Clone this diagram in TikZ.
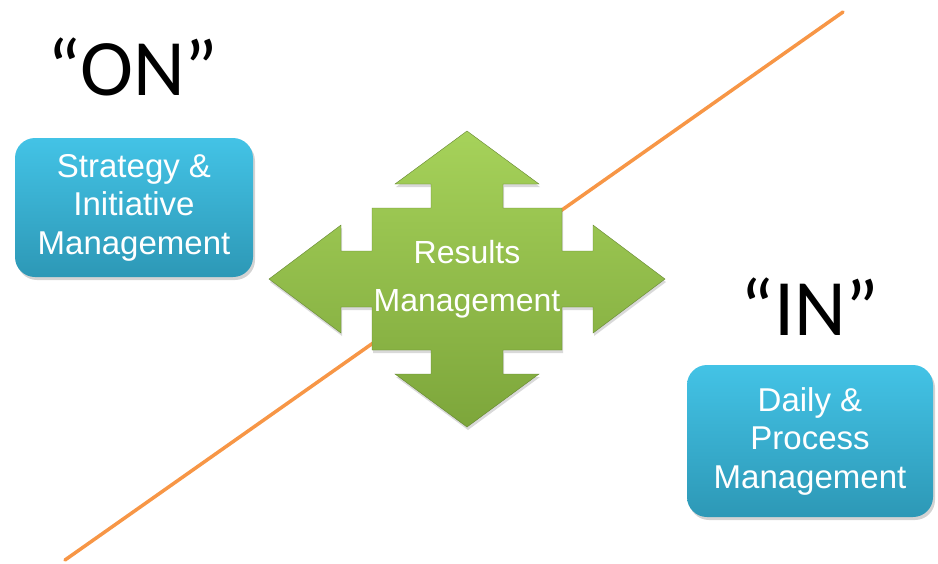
\documentclass[tikz,border=0pt]{standalone}
\usepackage{fontspec}
\setmainfont{Liberation Sans}
\newfontfamily\quotefont{Carlito}
\usetikzlibrary{shadows}

\definecolor{boxtop}{HTML}{43C3E6}
\definecolor{boxbot}{HTML}{2D98B6}
\definecolor{arrtop}{HTML}{A6D25A}
\definecolor{arrbot}{HTML}{7DA63B}
\definecolor{axisline}{HTML}{F79646}

\tikzset{
  mgmtbox/.style={rounded corners=20pt, top color=boxtop, bottom color=boxbot,
    text=white, align=center, inner sep=0pt,
    font=\fontsize{33}{38.5}\selectfont,
    drop shadow={opacity=0.35, shadow xshift=2pt, shadow yshift=-3pt}},
  bigword/.style={font=\quotefont\fontsize{80}{80}\selectfont, anchor=base},
}

\begin{document}
\begin{tikzpicture}[x=1pt,y=-1pt]
    \useasboundingbox (0,0) rectangle (938,563);
    % diagonal line
    \coordinate (low) at (65,560);
    \coordinate (high) at (843,12);
    \draw[axisline, line width=3.5pt, line cap=round] (low) -- (high);
    % four way arrow
    \begin{scope}[shift={(467,279)}]
      \draw[top color=arrtop, bottom color=arrbot, draw=arrbot!80!black, line width=0.4pt,
            drop shadow={opacity=0.3, shadow xshift=1pt, shadow yshift=-3pt}]
        (0,-148) -- (72,-95) -- (36,-95) -- (36,-71) -- (95,-71) -- (95,-28)
        -- (126,-28) -- (126,-54) -- (198,0) -- (126,54) -- (126,28) -- (95,28)
        -- (95,71) -- (36,71) -- (36,95) -- (72,95) -- (0,148) -- (-72,95)
        -- (-36,95) -- (-36,71) -- (-95,71) -- (-95,28) -- (-126,28) -- (-126,54)
        -- (-198,0) -- (-126,-54) -- (-126,-28) -- (-95,-28) -- (-95,-71)
        -- (-36,-71) -- (-36,-95) -- (-72,-95) -- cycle;
    \end{scope}
    \node[text=white, align=center, font=\fontsize{32}{48}\selectfont] (results) at (467,279) {Results\\Management};
    % boxes
    \node[mgmtbox, minimum width=238pt, minimum height=139pt] (strat) at (134,207.5) {Strategy \&\\Initiative\\Management};
    \node[mgmtbox, minimum width=246pt, minimum height=152pt] (daily) at (810,441) {Daily \&\\Process\\Management};
    % labels
    \node[bigword] (on) at (133,95) {“ON”};
    \node[bigword] (in) at (810,335) {“IN”};
\end{tikzpicture}
\end{document}
